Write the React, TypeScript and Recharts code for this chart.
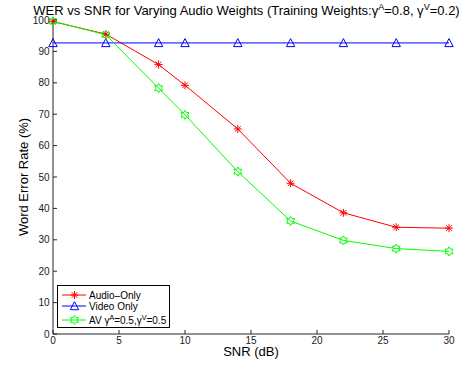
import React from 'react';
import { LineChart, Line, XAxis, YAxis, Legend, Label } from 'recharts';

const snrDb = [0, 4, 8, 10, 14, 18, 22, 26, 30];
const audioOnly = [99.5, 95.5, 85.8, 79.2, 65.3, 48.0, 38.6, 34.0, 33.7];
const videoOnly = [92.7, 92.7, 92.7, 92.7, 92.7, 92.7, 92.7, 92.7, 92.7];
const avWeighted = [99.6, 95.3, 78.3, 69.8, 51.7, 36.0, 29.8, 27.2, 26.3];
const xTicks = [0, 5, 10, 15, 20, 25, 30];
const yTicks = [0, 10, 20, 30, 40, 50, 60, 70, 80, 90, 100];
const seriesKeys = ['audio', 'video', 'av'];
const seriesNames = ['Audio\u2013Only', 'Video Only', 'AV \u03b3^A=0.5,\u03b3^V=0.5'];
const titleText = 'WER vs SNR for Varying Audio Weights (Training Weights:\u03b3^A=0.8, \u03b3^V=0.2)';
const xLabelText = 'SNR (dB)';
const yLabelText = 'Word Error Rate (%)';

const FONT = '"Liberation Sans", Arial, Helvetica, sans-serif';
const AXIS = '#262626';
const RED = '#ff0000';
const BLUE = '#0000ff';
const GREEN = '#00ff00';

const data = snrDb.map((snr, i) => ({
  snr,
  audio: audioOnly[i],
  video: videoOnly[i],
  av: avWeighted[i],
}));

// split "abc^Xdef" into segments
function splitSup(s: string) {
  const parts: { t: string; sup: boolean }[] = [];
  let buf = '';
  for (let i = 0; i < s.length; i++) {
    if (s[i] === '^' && i + 1 < s.length) {
      if (buf) parts.push({ t: buf, sup: false });
      buf = '';
      parts.push({ t: s[i + 1], sup: true });
      i++;
    } else buf += s[i];
  }
  if (buf) parts.push({ t: buf, sup: false });
  return parts;
}

function svgSupText(s: string, fontSize: number) {
  const parts = splitSup(s);
  const out: any[] = [];
  let raised = false;
  parts.forEach((p, i) => {
    if (p.sup) {
      out.push(
        <tspan key={i} dy={-4} fontSize={fontSize * 0.72}>
          {p.t}
        </tspan>
      );
      raised = true;
    } else {
      out.push(
        <tspan key={i} dy={raised ? 4 : 0} fontSize={fontSize}>
          {p.t}
        </tspan>
      );
      raised = false;
    }
  });
  return out;
}

function htmlSupText(s: string, fontSize: number) {
  return splitSup(s).map((p, i) =>
    p.sup ? (
      <span key={i} style={{ fontSize: fontSize * 0.7, position: 'relative', top: -5 }}>
        {p.t}
      </span>
    ) : (
      <span key={i}>{p.t}</span>
    )
  );
}

const Asterisk = ({ cx, cy, color, r = 4 }: any) => {
  const d = r * 0.72;
  return (
    <g stroke={color} strokeWidth={1} fill="none">
      <line x1={cx - r} y1={cy} x2={cx + r} y2={cy} />
      <line x1={cx} y1={cy - r} x2={cx} y2={cy + r} />
      <line x1={cx - d} y1={cy - d} x2={cx + d} y2={cy + d} />
      <line x1={cx - d} y1={cy + d} x2={cx + d} y2={cy - d} />
    </g>
  );
};

const Triangle = ({ cx, cy, color }: any) => (
  <polygon
    points={`${cx},${cy - 4.3} ${cx - 4.2},${cy + 3.7} ${cx + 4.2},${cy + 3.7}`}
    stroke={color}
    strokeWidth={1}
    fill="none"
  />
);

const Hexagram = ({ cx, cy, color }: any) => {
  const pts: string[] = [];
  for (let k = 0; k < 12; k++) {
    const rr = k % 2 === 0 ? 4.6 : 2.7;
    const a = -Math.PI / 2 + (k * Math.PI) / 6;
    pts.push(`${cx + rr * Math.cos(a)},${cy + rr * Math.sin(a)}`);
  }
  return <polygon points={pts.join(' ')} stroke={color} strokeWidth={1} fill="none" />;
};

const markerFor = (key: string, cx: number, cy: number, color: string) => {
  if (key === 'audio') return <Asterisk cx={cx} cy={cy} color={color} />;
  if (key === 'video') return <Triangle cx={cx} cy={cy} color={color} />;
  return <Hexagram cx={cx} cy={cy} color={color} />;
};

const XTick = (p: any) => (
  <g>
    <line x1={p.x} x2={p.x} y1={p.y} y2={p.y - 4} stroke={AXIS} strokeWidth={1} />
    <text x={p.x} y={p.y + 9.5} textAnchor="middle" fontSize={10} fill="#1a1a1a" fontFamily={FONT}>
      {p.payload.value}
    </text>
  </g>
);

const YTick = (p: any) => (
  <g>
    <line x1={p.x} x2={p.x + 4} y1={p.y} y2={p.y} stroke={AXIS} strokeWidth={1} />
    <text x={p.x - 3.5} y={p.y + 3.6} textAnchor="end" fontSize={10} fill="#1a1a1a" fontFamily={FONT}>
      {p.payload.value}
    </text>
  </g>
);

const XLabelContent = (props: any) => {
  const vb = props.viewBox || { x: 53, y: 334, width: 396, height: 37 };
  return (
    <text x={vb.x + vb.width / 2} y={vb.y + 22} textAnchor="middle" fontSize={13} fill="#000" fontFamily={FONT}>
      {xLabelText}
    </text>
  );
};

const YLabelContent = (props: any) => {
  const vb = props.viewBox || { x: 0, y: 20, width: 53, height: 314 };
  const x = vb.x + 27.5;
  const y = vb.y + vb.height / 2;
  return (
    <text x={x} y={y} transform={`rotate(-90, ${x}, ${y})`} textAnchor="middle" fontSize={13} fill="#000" fontFamily={FONT}>
      {yLabelText}
    </text>
  );
};

const LegendContent = (props: any) => {
  const payload = [...(props.payload || [])].sort(
    (a: any, b: any) => seriesKeys.indexOf(a.dataKey) - seriesKeys.indexOf(b.dataKey)
  );
  const rowMid = [10, 21, 35];
  const rowBase = [13.5, 24.5, 39];
  return (
    <svg width={113} height={43} style={{ display: 'block' }}>
      <rect x={0.5} y={0.5} width={112} height={42} fill="#fff" stroke="#000" strokeWidth={1} />
      {payload.map((entry: any, i: number) => {
        const color = entry.color;
        const key = entry.dataKey;
        return (
          <g key={key}>
            <line x1={5} x2={29} y1={rowMid[i]} y2={rowMid[i]} stroke={color} strokeWidth={1} />
            {markerFor(key, 17.5, rowMid[i], color)}
            <text x={32} y={rowBase[i]} fontSize={10} fill="#000" fontFamily={FONT}>
              {svgSupText(String(entry.value), 10)}
            </text>
          </g>
        );
      })}
    </svg>
  );
};

const makeDot = (key: string, color: string) => (p: any) => (
  <g key={`${key}-${p.index}`}>{markerFor(key, p.cx, p.cy, color)}</g>
);

export default function App() {
  return (
    <div
      style={{
        position: 'absolute',
        left: 0,
        top: 0,
        width: 473,
        height: 371,
        background: '#fff',
        fontFamily: FONT,
        overflow: 'hidden',
      }}
    >
      <div
        style={{
          position: 'absolute',
          left: 10,
          top: 3,
          width: 473,
          textAlign: 'center',
          whiteSpace: 'nowrap',
          fontSize: 13,
          lineHeight: '15px',
          color: '#000',
          zIndex: 2,
        }}
      >
        {htmlSupText(titleText, 13)}
      </div>
      <LineChart width={473} height={371} data={data} margin={{ top: 20, right: 24, left: 0, bottom: 0 }}>
        <XAxis
          dataKey="snr"
          type="number"
          domain={[0, 30]}
          ticks={xTicks}
          interval={0}
          height={37}
          tickSize={0}
          tickMargin={0}
          tickLine={false}
          tick={XTick}
          axisLine={{ stroke: AXIS, strokeWidth: 1 }}
        >
          <Label content={XLabelContent} />
        </XAxis>
        <YAxis
          type="number"
          domain={[0, 100]}
          ticks={yTicks}
          interval={0}
          width={53}
          tickSize={0}
          tickMargin={0}
          tickLine={false}
          tick={YTick}
          axisLine={{ stroke: AXIS, strokeWidth: 1 }}
        >
          <Label content={YLabelContent} />
        </YAxis>
        <Legend
          layout="vertical"
          align="center"
          verticalAlign="middle"
          wrapperStyle={{ left: 57, top: 285, width: 113, height: 43 }}
          content={LegendContent}
        />
        <Line
          dataKey="audio"
          name={seriesNames[0]}
          stroke={RED}
          strokeWidth={1}
          dot={makeDot('audio', RED)}
          activeDot={false}
          isAnimationActive={false}
        />
        <Line
          dataKey="video"
          name={seriesNames[1]}
          stroke={BLUE}
          strokeWidth={1}
          dot={makeDot('video', BLUE)}
          activeDot={false}
          isAnimationActive={false}
        />
        <Line
          dataKey="av"
          name={seriesNames[2]}
          stroke={GREEN}
          strokeWidth={1}
          dot={makeDot('av', GREEN)}
          activeDot={false}
          isAnimationActive={false}
        />
      </LineChart>
    </div>
  );
}
